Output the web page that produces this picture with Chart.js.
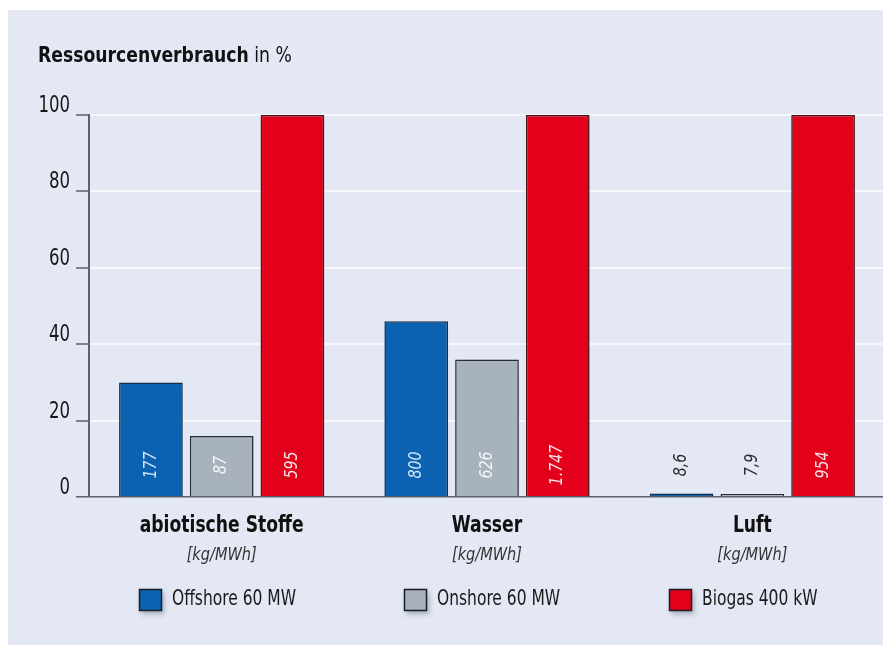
<!DOCTYPE html>
<html>
<head>
<meta charset="utf-8">
<script src="https://cdn.jsdelivr.net/npm/chart.js@4.4.1/dist/chart.umd.min.js"></script>
<style>
  html, body { margin: 0; padding: 0; background: #ffffff; overflow: hidden; }
  #wrap { width: 883px; height: 645px; overflow: hidden; position: relative; }
  canvas { display: block; }
</style>
</head>
<body>
<div id="wrap"><canvas id="c" width="886" height="645"></canvas></div>
<script>
// ---- data ----
const categories = ["abiotische Stoffe", "Wasser", "Luft"];
const units = ["[kg/MWh]", "[kg/MWh]", "[kg/MWh]"];
const seriesNames = ["Offshore 60 MW", "Onshore 60 MW", "Biogas 400 kW"];
const offshorePct = [30, 46, 0.9];
const onshorePct = [16, 36, 0.8];
const biogasPct = [100, 100, 100];
const offshoreLabels = ["177", "800", "8,6"];
const onshoreLabels = ["87", "626", "7,9"];
const biogasLabels = ["595", "1.747", "954"];
const yTicks = [0, 20, 40, 60, 80, 100];

const FONT = "'DejaVu Sans Condensed', 'Liberation Sans Narrow', sans-serif";
const PANEL = '#e3e8f4';
const AXIS = '#5b6170';

const fillColors = ['#0a62b1', '#a8b2bc', '#e3001b'];
const borderColors = ['#17304f', '#2a2f34', '#4d1212'];
const labelColors = ['#d5e6f7', '#f4f6f8', '#fbe3e6'];
const pointLabels = [offshoreLabels, onshoreLabels, biogasLabels];

// draw text horizontally condensed by factor sx
function drawText(ctx, text, x, y, font, color, align, sx) {
  ctx.save();
  ctx.font = font;
  ctx.fillStyle = color;
  ctx.textBaseline = 'middle';
  ctx.textAlign = 'left';
  const w = ctx.measureText(text).width * sx;
  let left = x;
  if (align === 'center') left = x - w / 2;
  else if (align === 'right') left = x - w;
  ctx.translate(left, y);
  ctx.scale(sx, 1);
  ctx.fillText(text, 0, 0);
  ctx.restore();
  return w;
}

const bgPlugin = {
  id: 'bg',
  beforeDraw(chart) {
    const ctx = chart.ctx;
    ctx.save();
    ctx.fillStyle = '#ffffff';
    ctx.fillRect(0, 0, chart.width, chart.height);
    ctx.fillStyle = PANEL;
    ctx.fillRect(8, 10, chart.width - 8, chart.height - 10);
    const w = drawText(ctx, 'Ressourcenverbrauch', 38, 56, "bold 22px " + FONT, '#111', 'left', 0.87);
    drawText(ctx, ' in %', 38 + w, 56, "22px " + FONT, '#111', 'left', 0.87);
    ctx.restore();
  }
};

const shadowPlugin = {
  id: 'shadow',
  beforeDatasetsDraw(chart) {
    const ctx = chart.ctx;
    ctx.save();
    ctx.shadowColor = 'rgba(20,30,50,0.22)';
    ctx.shadowBlur = 6;
    ctx.shadowOffsetX = 2;
    ctx.shadowOffsetY = 3;
  },
  afterDatasetsDraw(chart) {
    chart.ctx.restore();
  }
};

const labelPlugin = {
  id: 'labels',
  afterDatasetsDraw(chart) {
    const ctx = chart.ctx;
    const yScale = chart.scales.y;
    const xScale = chart.scales.x;
    const base = yScale.getPixelForValue(0);
    ctx.save();
    // y tick labels
    yScale.ticks.forEach(t => {
      const py = yScale.getPixelForValue(t.value);
      drawText(ctx, String(t.value), 70, py - 9, "23px " + FONT, '#161616', 'right', 0.8);
    });
    // value labels (rotated)
    chart.data.datasets.forEach((ds, di) => {
      const meta = chart.getDatasetMeta(di);
      meta.data.forEach((el, i) => {
        const v = ds.data[i];
        const txt = pointLabels[di][i];
        ctx.save();
        ctx.translate(el.x, base - 32);
        ctx.rotate(-Math.PI / 2);
        drawText(ctx, txt, 0, 0, "italic 18px " + FONT, v < 5 ? '#2a2a2a' : labelColors[di], 'center', 0.88);
        ctx.restore();
      });
    });
    // category labels
    categories.forEach((c, i) => {
      const x = xScale.getPixelForValue(i);
      drawText(ctx, c, x, 526, "bold 23px " + FONT, '#111', 'center', 0.83);
      drawText(ctx, units[i], x, 556, "italic 17px " + FONT, '#333', 'center', 0.95);
    });
    // legend
    seriesNames.forEach((n, i) => {
      const cx = xScale.getPixelForValue(i);
      const bx = Math.round(cx - 83);
      const by = 589;
      ctx.save();
      ctx.shadowColor = 'rgba(20,30,50,0.3)';
      ctx.shadowBlur = 5;
      ctx.shadowOffsetX = 2;
      ctx.shadowOffsetY = 3;
      ctx.fillStyle = fillColors[i];
      ctx.fillRect(bx, by, 23, 22);
      ctx.restore();
      ctx.strokeStyle = '#1a1f26';
      ctx.lineWidth = 1.5;
      ctx.strokeRect(bx + 0.5, by + 0.5, 22, 21);
      drawText(ctx, n, bx + 33, by + 11, "21px " + FONT, '#1a1a1a', 'left', 0.82);
    });
    ctx.restore();
  }
};

const datasets = [offshorePct, onshorePct, biogasPct].map((d, i) => ({
  label: seriesNames[i],
  data: d,
  backgroundColor: fillColors[i],
  borderColor: borderColors[i],
  borderWidth: 1.5,
  borderSkipped: 'bottom',
  categoryPercentage: 0.80,
  barPercentage: 0.90
}));

new Chart(document.getElementById('c'), {
  type: 'bar',
  data: { labels: categories, datasets },
  options: {
    responsive: false,
    animation: false,
    layout: { padding: { left: 0, top: 115, right: 1, bottom: 148 } },
    plugins: {
      legend: { display: false },
      title: { display: false },
      tooltip: { enabled: false }
    },
    scales: {
      x: {
        display: false,
        offset: true
      },
      y: {
        min: 0,
        max: 100,
        afterFit(s) { s.width = 89; },
        afterBuildTicks(s) { s.ticks = yTicks.map(v => ({ value: v })); },
        ticks: {
          font: { family: FONT, size: 22 },
          color: 'rgba(0,0,0,0)',
          padding: 6,
          callback: v => String(v)
        },
        grid: {
          drawOnChartArea: true,
          color: c => (c.tick && c.tick.value === 0) ? AXIS : '#f6f8fc',
          lineWidth: c => (c.tick && c.tick.value === 0) ? 1.5 : 2,
          tickColor: AXIS,
          tickLength: 13,
          tickWidth: 1.5
        },
        border: { display: true, color: AXIS, width: 2 }
      }
    }
  },
  plugins: [bgPlugin, shadowPlugin, labelPlugin]
});
</script>
</body>
</html>
